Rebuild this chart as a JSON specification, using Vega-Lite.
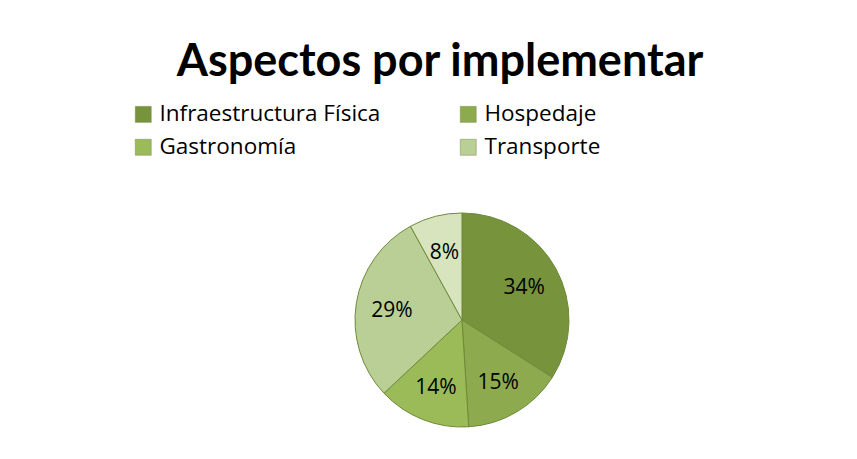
{
  "$schema": "https://vega.github.io/schema/vega-lite/v6.json",
  "width": 214,
  "height": 214,
  "autosize": {"type": "none"},
  "padding": {"left": 355, "top": 213, "right": 288, "bottom": 32},
  "background": "white",
  "config": {"view": {"stroke": null}},
  "title": {
    "text": "Aspectos por implementar",
    "font": "Lato",
    "fontSize": 45,
    "fontWeight": "bold",
    "color": "black",
    "anchor": "middle",
    "dx": -22,
    "offset": 18
  },
  "data": {
    "values": [
      {"aspecto": "Infraestructura Física", "valor": 0.34, "i": 1},
      {"aspecto": "Hospedaje", "valor": 0.15, "i": 2},
      {"aspecto": "Gastronomía", "valor": 0.14, "i": 3},
      {"aspecto": "Transporte", "valor": 0.29, "i": 4},
      {"aspecto": "Otros", "valor": 0.08, "i": 5}
    ]
  },
  "encoding": {
    "theta": {"field": "valor", "type": "quantitative", "stack": true},
    "order": {"field": "i", "type": "quantitative"},
    "color": {
      "field": "aspecto",
      "type": "nominal",
      "scale": {
        "domain": ["Infraestructura Física", "Hospedaje", "Gastronomía", "Transporte", "Otros"],
        "range": ["#77933C", "#8EAA4F", "#9BBB59", "#BACF95", "#D7E4BD"]
      },
      "legend": {
        "title": null,
        "values": ["Infraestructura Física", "Hospedaje", "Gastronomía", "Transporte"],
        "orient": "none",
        "legendX": -223,
        "legendY": -110,
        "columns": 2,
        "direction": "horizontal",
        "symbolType": "square",
        "symbolSize": 256,
        "symbolStrokeColor": "#7a8f55",
        "symbolStrokeWidth": 0.5,
        "labelFont": "Open Sans",
        "labelFontSize": 22.5,
        "labelColor": "black",
        "labelOffset": 5,
        "labelLimit": 400,
        "columnPadding": 76,
        "rowPadding": 10
      }
    }
  },
  "layer": [
    {
      "mark": {"type": "arc", "outerRadius": 107, "stroke": "#6E8A3A", "strokeWidth": 1}
    },
    {
      "mark": {"type": "text", "radius": 71, "font": "Open Sans", "fontSize": 21, "color": "black", "dy": 2},
      "encoding": {
        "text": {"field": "valor", "type": "quantitative", "format": ".0%"},
        "color": {"value": "black"}
      }
    }
  ]
}
